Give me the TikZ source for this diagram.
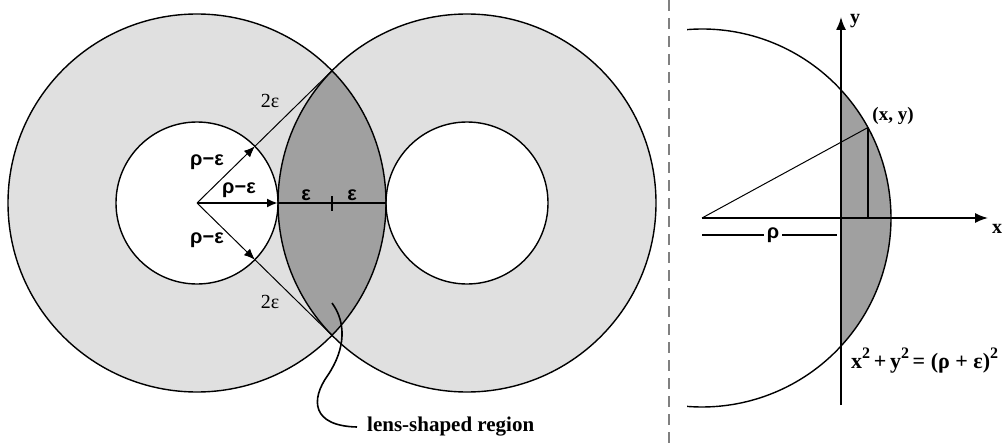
\documentclass[tikz,border=0pt]{standalone}
\usepackage{fontspec}
\setmainfont{Liberation Serif}
\setsansfont{Liberation Sans}
\usetikzlibrary{arrows.meta}
\definecolor{lightg}{RGB}{224,224,224}
\definecolor{lensg}{RGB}{160,160,160}
\definecolor{dashg}{RGB}{128,128,128}
\newcommand{\supII}{\raisebox{0.45em}{\fontsize{16}{16}\selectfont 2}}
\begin{document}
\begin{tikzpicture}[x=1pt,y=-1pt,
  outl/.style={draw=black,line width=1.4pt},
  thinl/.style={draw=black,line width=1pt},
  arr/.style={-{Latex[length=11pt,width=9pt]}},
  thickl/.style={draw=black,line width=2.4pt},
  axisl/.style={draw=black,line width=1.6pt,-{Latex[length=13pt,width=10pt]}},
  sanslbl/.style={font=\sffamily\bfseries\fontsize{20}{22}\selectfont,inner sep=0pt},
  serifreg/.style={font=\fontsize{20}{22}\selectfont,inner sep=0pt},
  seriflbl/.style={font=\bfseries\fontsize{19}{22}\selectfont,inner sep=0pt},
  bigserif/.style={font=\bfseries\fontsize{21}{24}\selectfont,inner sep=0pt}]
\fill[white] (0,0) rectangle (1005,444);
\useasboundingbox (0,0) rectangle (1005,444);
% ---------- left figure ----------
\coordinate (C1) at (197,203);
\coordinate (C2) at (467,203);
\coordinate (T) at (332,70.7);
\coordinate (B) at (332,335.3);
\coordinate (A1) at ([shift={(-44.4:81)}]C1);
\coordinate (A2) at ([shift={(44.4:81)}]C1);
\coordinate (M1) at (278,203);
\coordinate (M2) at (386,203);
\coordinate (K1) at (332,196);
\coordinate (K2) at (332,211);
\fill[lightg] (C1) circle[radius=189];
\fill[lightg] (C2) circle[radius=189];
\begin{scope}
  \clip (C1) circle[radius=189];
  \fill[lensg] (C2) circle[radius=189];
\end{scope}
\fill[white] (C1) circle[radius=81];
\fill[white] (C2) circle[radius=81];
\draw[outl] (C1) circle[radius=189];
\draw[outl] (C2) circle[radius=189];
\draw[outl] (C1) circle[radius=81];
\draw[outl] (C2) circle[radius=81];
\draw[thinl,arr] (C1) -- (A1);
\draw[thinl] (A1) -- (T);
\draw[thinl,arr] (C1) -- (A2);
\draw[thinl] (A2) -- (B);
\draw[thickl,arr] (C1) -- (M1);
\draw[thickl] (M1) -- (M2);
\draw[line width=1.6pt] (K1) -- (K2);
\node[sanslbl] (l1) at (207,162) {ρ−ε};
\node[sanslbl] (l2) at (239,190) {ρ−ε};
\node[sanslbl] (l3) at (207,240) {ρ−ε};
\node[serifreg] (l4) at (270,101) {2ε};
\node[serifreg] (l5) at (270,302) {2ε};
\node[sanslbl] (e1) at (306,195) {ε};
\node[sanslbl] (e2) at (352,195) {ε};
\node[bigserif,anchor=west,inner xsep=10pt] (lens) at (357,427) {lens-shaped region};
\coordinate (LS) at (332,303);
\draw[line width=1.6pt] (LS) .. controls (346,322) and (346,348) .. (328,375)
  .. controls (310,400) and (312,426) .. (lens.west);
% ---------- separator ----------
\coordinate (D1) at (669,0);
\coordinate (D2) at (669,444);
\draw[dashg,line width=1.6pt,dash pattern=on 11pt off 7pt] (D1) -- (D2);
% ---------- right figure ----------
\coordinate (O) at (702,218);
\coordinate (Q1) at ([shift={(-42.6:189)}]O);
\coordinate (P) at ([shift={(-28.6:189)}]O);
\coordinate (Xe) at (988,218);
\coordinate (Yb) at (841,405);
\coordinate (Ye) at (841,17);
\coordinate (R1) at (702,235);
\coordinate (R2) at (837,235);
\fill[lensg] (Q1) arc[start angle=-42.6,end angle=42.6,radius=189] -- cycle;
\draw[outl] ([shift={(-94.5:189)}]O) arc[start angle=-94.5,end angle=94.5,radius=189];
\draw[thinl] (O) -- (P);
\draw[outl] (P) -- (P |- O);
\draw[axisl] (O) -- (Xe);
\draw[axisl] (Yb) -- (Ye);
\node[seriflbl,font=\bfseries\fontsize{20}{22}\selectfont] (xl) at (997,229) {x};
\node[seriflbl,font=\bfseries\fontsize{20}{22}\selectfont] (yl) at (855,21) {y};
\node[seriflbl] (pl) at (893,116) {(x, y)};
\node[sanslbl,fill=white,inner xsep=3pt] (rho) at (773,235) {ρ};
\draw[line width=2.6pt] (R1) -- (rho.west);
\draw[line width=2.6pt] (rho.east) -- (R2);
\node[font=\bfseries\fontsize{22}{24}\selectfont,inner sep=0pt,anchor=base west] (eq) at (851,368) {x\supII\,+\,y\supII\,= (ρ + ε)\supII};
\end{tikzpicture}
\end{document}
